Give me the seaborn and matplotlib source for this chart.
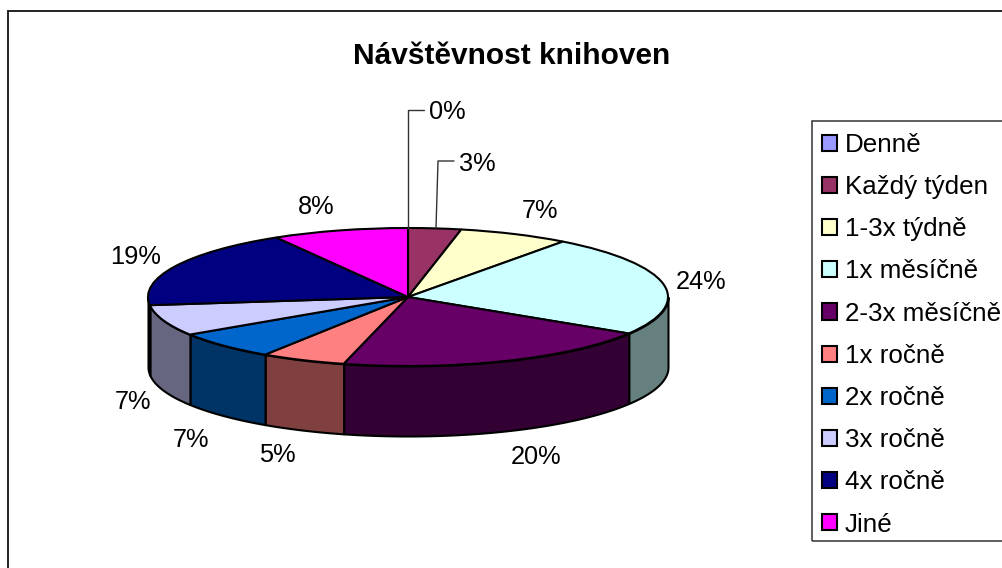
import numpy as np
import matplotlib.pyplot as plt
import seaborn as sns
from matplotlib.colors import to_rgb
from matplotlib.patches import Patch, Rectangle

sns.set_theme(style="white")
plt.rcParams['font.family'] = ['Liberation Sans', 'DejaVu Sans']

title = 'Návštěvnost knihoven'
categories = ['Denně', 'Každý týden', '1-3x týdně', '1x měsíčně', '2-3x měsíčně',
              '1x ročně', '2x ročně', '3x ročně', '4x ročně', 'Jiné']
values = [0, 3.3, 6.9, 23.8, 20.2, 5.3, 6.6, 7.3, 18.51, 8.49]
colors = ['#9999FF', '#993366', '#FFFFCC', '#CCFFFF', '#660066',
          '#FF8080', '#0066CC', '#CCCCFF', '#000080', '#FF00FF']

W, H = 1002, 568
fig = plt.figure(figsize=(W / 100, H / 100), dpi=100, facecolor='white')


def fx(px):
    return px / W


def fy(py):
    return 1 - py / H


# rámeček grafu a legendy
fig.add_artist(Rectangle((fx(8), fy(575)), fx(1010) - fx(8), fy(11) - fy(575),
                         transform=fig.transFigure, fill=False, ec='#222222', lw=1.4))
fig.add_artist(Rectangle((fx(812), fy(541)), fx(1010) - fx(812), fy(121) - fy(541),
                         transform=fig.transFigure, fill=False, ec='#333333', lw=1.1))

# osa je jednotkový kruh roztažený na elipsu
cx, cy, rx, ry = 408, 297, 260, 69
ax = fig.add_axes([fx(cx - rx), fy(cy + ry), 2 * rx / W, 2 * ry / H])
depth = 70 / ry

# boční stěna, jen přední polovina
bounds = np.cumsum([0] + values) / sum(values) * 360
for i, col in enumerate(colors):
    a0, a1 = max(bounds[i], 90), min(bounds[i + 1], 270)
    if a1 <= a0:
        continue
    t = np.radians(np.linspace(a0, a1, 80))
    x, y = np.sin(t), np.cos(t)
    dark = tuple(c * 0.5 for c in to_rgb(col))
    ax.fill_between(x, y, y - depth, color=dark, ec='black', lw=1.5,
                    clip_on=False, zorder=1)

wedges, _ = ax.pie(values, colors=colors, startangle=90, counterclock=False, radius=1,
                   wedgeprops={'edgecolor': 'black', 'linewidth': 1.5, 'clip_on': False})
for w in wedges:
    w.set_zorder(2)
ax.set_aspect('auto')
ax.set_xlim(-1, 1)
ax.set_ylim(-1, 1)
ax.axis('off')

# popisky procent
label_px = [(447, 112), (477, 164), (540, 211), (701, 282), (536, 457),
            (277, 455), (191, 440), (133, 402), (136, 257), (316, 207)]
for v, (px, py) in zip(values, label_px):
    fig.text(fx(px), fy(py), f'{v:.0f}%', fontsize=18.3, color='black', ha='center', va='center')

# vodicí čáry pro malé výseče
for pts in ([(408, 228), (408, 110), (424, 110)], [(436, 228), (438, 161), (454, 161)]):
    xs, ys = zip(*pts)
    fig.add_artist(plt.Line2D([fx(p) for p in xs], [fy(p) for p in ys],
                              color='#333333', lw=1, transform=fig.transFigure))

fig.text(fx(512), fy(56), title, fontsize=21.5, fontweight='bold', color='black',
         ha='center', va='center')

handles = [Patch(facecolor=c, edgecolor='black', linewidth=1.5) for c in colors]
fig.legend(handles, categories, loc='upper left', bbox_to_anchor=(fx(810), fy(121)),
           frameon=False, fontsize=18.7, handlelength=0.58, handleheight=0.58,
           handletextpad=0.3, labelspacing=0.70, borderaxespad=0, borderpad=0.46,
           labelcolor='black')

fig.savefig('out.png', dpi=100, facecolor='white')
